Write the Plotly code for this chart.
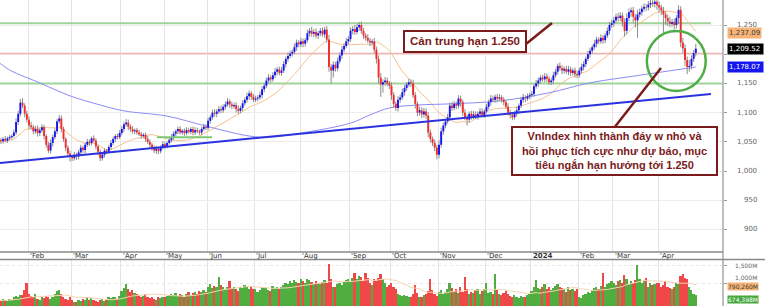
import pandas as pd
import plotly.graph_objects as go

# ---------------- DATA ----------------
holidays = ["2023-01-20", "2023-01-23", "2023-01-24", "2023-01-25", "2023-01-26",
            "2023-05-01", "2023-05-02", "2023-05-03", "2023-09-01", "2023-09-04",
            "2024-01-01", "2024-02-08", "2024-02-09", "2024-02-12", "2024-02-13",
            "2024-02-14", "2024-04-18"]

close_2023_01 = [1046, 1049, 1053, 1051, 1055, 1052, 1056, 1058, 1060, 1066, 1084, 1098, 1117, 1112, 1098, 1088]
close_2023_02 = [1078, 1075, 1068, 1072, 1065, 1070, 1075, 1060, 1045, 1035, 1048, 1058, 1068, 1085, 1090, 1072, 1055, 1040, 1030, 1024]
close_2023_03 = [1022, 1028, 1025, 1032, 1040, 1036, 1045, 1050, 1048, 1056, 1052, 1042, 1033, 1022, 1028, 1035, 1033, 1041, 1048, 1055, 1060, 1058, 1065]
close_2023_04 = [1072, 1080, 1083, 1076, 1072, 1068, 1070, 1066, 1063, 1060, 1062, 1055, 1050, 1045, 1040, 1035, 1038, 1034, 1040, 1046]
close_2023_05 = [1043, 1048, 1053, 1058, 1064, 1068, 1072, 1066, 1069, 1065, 1070, 1067, 1072, 1066, 1070, 1068, 1066, 1072, 1076, 1074]
close_2023_06 = [1086, 1092, 1100, 1098, 1102, 1106, 1104, 1110, 1114, 1119, 1114, 1111, 1113, 1106, 1103, 1108, 1116, 1122, 1128, 1133, 1127, 1122]
close_2023_07 = [1124, 1126, 1130, 1140, 1146, 1155, 1160, 1157, 1164, 1170, 1174, 1168, 1172, 1183, 1192, 1197, 1201, 1204, 1212, 1220, 1217]
close_2023_08 = [1222, 1218, 1224, 1236, 1240, 1235, 1238, 1232, 1236, 1240, 1234, 1242, 1225, 1178, 1172, 1182, 1176, 1188, 1198, 1208, 1214, 1222, 1226]
close_2023_09 = [1240, 1243, 1238, 1246, 1250, 1240, 1232, 1228, 1223, 1220, 1222, 1208, 1192, 1160, 1148, 1152, 1155, 1150, 1146]
close_2023_10 = [1130, 1115, 1108, 1122, 1126, 1135, 1142, 1148, 1152, 1150, 1130, 1115, 1100, 1104, 1097, 1102, 1095, 1066, 1055, 1048, 1040, 1028]
close_2023_11 = [1045, 1068, 1078, 1085, 1092, 1112, 1108, 1115, 1112, 1124, 1118, 1100, 1092, 1088, 1098, 1094, 1097, 1093, 1098, 1102, 1096, 1102]
close_2023_12 = [1110, 1118, 1124, 1122, 1127, 1124, 1126, 1122, 1118, 1110, 1100, 1096, 1092, 1098, 1104, 1112, 1122, 1126, 1124, 1128, 1130]
close_2024_01 = [1132, 1145, 1150, 1155, 1160, 1157, 1162, 1158, 1152, 1155, 1164, 1170, 1180, 1176, 1172, 1175, 1170, 1174, 1168, 1172, 1166, 1164]
close_2024_02 = [1172, 1178, 1183, 1192, 1200, 1206, 1212, 1218, 1225, 1222, 1228, 1224, 1232, 1240, 1250, 1253]
close_2024_03 = [1258, 1264, 1262, 1266, 1255, 1240, 1262, 1272, 1275, 1264, 1258, 1268, 1272, 1278, 1281, 1280, 1285, 1288, 1286, 1290, 1284]
close_2024_04 = [1280, 1275, 1268, 1262, 1256, 1252, 1255, 1250, 1262, 1276, 1220, 1210, 1190, 1178, 1180, 1192, 1202, 1209.52]
first_open = 1043

wick_up_months = [
    [4, 3, 5, 4, 3, 5, 3, 4, 3, 5, 6, 5, 6, 8, 4, 5],
    [5, 6, 4, 5, 6, 4, 5, 4, 3, 5, 6, 4, 5, 4, 6, 5, 4, 3, 4, 5],
    [4, 5, 3, 4, 5, 3, 4, 5, 4, 3, 5, 4, 3, 4, 5, 4, 3, 4, 5, 4, 3, 4, 5],
    [5, 4, 6, 5, 4, 5, 3, 4, 5, 4, 3, 4, 5, 4, 3, 4, 5, 3, 4, 5],
    [4, 3, 4, 5, 4, 3, 4, 5, 3, 4, 5, 4, 3, 4, 5, 4, 3, 4, 5, 4],
    [5, 4, 5, 6, 4, 5, 6, 4, 5, 6, 4, 5, 4, 5, 6, 4, 5, 4, 6, 5, 4, 5],
    [5, 4, 6, 5, 4, 5, 6, 4, 5, 6, 4, 5, 6, 5, 4, 6, 5, 4, 6, 5, 4],
    [6, 5, 4, 6, 5, 7, 5, 6, 4, 5, 6, 5, 6, 8, 5, 6, 5, 6, 5, 6, 5, 6, 5],
    [6, 5, 7, 6, 5, 6, 5, 4, 6, 5, 4, 6, 5, 6, 8, 5, 6, 5, 4],
    [6, 5, 4, 6, 5, 6, 5, 4, 6, 5, 6, 5, 4, 6, 5, 6, 5, 6, 5, 4, 6, 5],
    [8, 6, 5, 4, 6, 5, 6, 5, 4, 6, 5, 4, 6, 5, 4, 5, 6, 5, 4, 6, 5, 4],
    [5, 4, 6, 5, 4, 5, 6, 4, 5, 4, 6, 5, 4, 5, 6, 4, 5, 6, 4, 5, 4],
    [5, 4, 6, 5, 4, 5, 6, 5, 4, 5, 6, 5, 4, 6, 5, 4, 5, 6, 5, 4, 5, 6],
    [5, 6, 5, 4, 6, 5, 4, 6, 5, 4, 6, 5, 4, 6, 5, 6],
    [6, 5, 7, 6, 5, 6, 8, 6, 5, 6, 5, 8, 6, 5, 6, 5, 6, 7, 5, 6, 5],
    [6, 5, 6, 5, 6, 8, 5, 6, 5, 8, 6, 8, 7, 6, 10, 6, 5, 8],
]
wick_dn_months = [
    [3, 4, 3, 5, 4, 3, 4, 3, 4, 3, 4, 5, 4, 4, 6, 5],
    [6, 4, 5, 4, 6, 5, 4, 6, 5, 4, 5, 6, 4, 5, 4, 6, 5, 6, 5, 8],
    [5, 4, 6, 5, 4, 5, 6, 4, 5, 4, 3, 5, 6, 5, 4, 5, 4, 3, 5, 4, 5, 4, 3],
    [4, 5, 4, 6, 5, 4, 5, 4, 3, 5, 4, 5, 4, 6, 5, 4, 6, 5, 4, 3],
    [5, 4, 3, 4, 5, 4, 5, 3, 4, 5, 4, 3, 4, 5, 4, 3, 4, 5, 3, 4],
    [4, 5, 4, 5, 6, 4, 5, 4, 5, 4, 6, 5, 4, 6, 5, 4, 5, 4, 5, 6, 5, 4],
    [4, 5, 4, 6, 5, 4, 5, 6, 4, 5, 6, 4, 5, 4, 6, 5, 4, 5, 4, 6, 5],
    [5, 6, 5, 4, 6, 5, 6, 5, 6, 5, 4, 6, 5, 8, 22, 12, 6, 5, 4, 6, 5, 4, 5],
    [5, 6, 5, 4, 6, 5, 6, 5, 4, 6, 5, 6, 8, 10, 21, 14, 6, 5, 6],
    [8, 6, 5, 6, 5, 4, 6, 5, 4, 6, 5, 8, 6, 5, 6, 5, 6, 8, 6, 5, 6, 8],
    [6, 5, 6, 5, 4, 6, 5, 4, 6, 5, 8, 6, 5, 10, 5, 6, 5, 4, 5, 6, 4, 5],
    [4, 5, 6, 4, 5, 6, 4, 5, 6, 4, 5, 6, 5, 4, 5, 6, 4, 5, 6, 4, 5],
    [4, 5, 4, 6, 5, 4, 5, 6, 4, 5, 6, 4, 5, 4, 6, 5, 4, 6, 5, 4, 6, 5],
    [4, 5, 6, 5, 4, 6, 5, 4, 6, 5, 4, 6, 5, 4, 6, 5],
    [6, 5, 6, 5, 8, 10, 6, 5, 8, 10, 12, 30, 5, 6, 5, 6, 5, 6, 5, 6, 8],
    [8, 8, 35, 12, 8, 6, 5, 8, 6, 10, 8, 8, 10, 12, 8, 6, 5, 6],
]

# volume in millions of shares
volume_months = [
    [520, 480, 540, 500, 560, 530, 510, 560, 520, 600, 640, 620, 680, 660, 800, 990],
    [700, 650, 600, 690, 560, 520, 600, 580, 650, 620, 560, 600, 700, 780, 800, 700, 620, 560, 540, 600],
    [520, 480, 460, 520, 500, 560, 540, 600, 520, 580, 540, 500, 480, 520, 560, 500, 540, 600, 580, 620, 600, 560, 640],
    [780, 850, 970, 820, 760, 800, 720, 700, 680, 620, 640, 700, 600, 580, 620, 560, 540, 600, 580, 620],
    [600, 640, 680, 700, 660, 720, 650, 700, 680, 620, 700, 740, 680, 720, 760, 700, 780, 740, 800, 760],
    [900, 980, 860, 920, 880, 1170, 950, 900, 820, 880, 1060, 860, 900, 820, 780, 900, 860, 950, 900, 820, 880, 840],
    [820, 760, 800, 880, 900, 860, 800, 780, 920, 860, 880, 820, 900, 950, 1000, 960, 1050, 1000, 1080, 1040, 1000],
    [1100, 1050, 1000, 1120, 1080, 1020, 980, 1050, 1000, 960, 1020, 1080, 1000, 1527, 1100, 880, 900, 960, 1000, 940, 1020, 1080, 1100],
    [1050, 1150, 1268, 1100, 1200, 1180, 1050, 1268, 1150, 1000, 950, 1100, 1050, 1150, 1250, 1100, 1000, 900, 950],
    [1000, 900, 820, 700, 660, 650, 680, 640, 600, 620, 700, 940, 720, 620, 600, 660, 700, 780, 1100, 800, 700, 650],
    [760, 800, 700, 740, 820, 990, 850, 780, 820, 720, 880, 760, 1157, 820, 700, 760, 720, 800, 840, 700, 780, 820],
    [990, 720, 760, 700, 1250, 800, 700, 660, 720, 780, 700, 640, 600, 660, 620, 580, 640, 600, 620, 680, 700],
    [780, 900, 1083, 860, 820, 900, 960, 840, 880, 800, 860, 920, 980, 900, 860, 820, 760, 880, 800, 840, 780, 820],
    [620, 580, 660, 700, 760, 720, 800, 860, 900, 840, 920, 1268, 900, 980, 1000, 1050],
    [1000, 950, 1050, 1080, 1000, 1222, 1100, 980, 1050, 1000, 1080, 1500, 1120, 1000, 1050, 1130, 900, 1000, 950, 980, 1000],
    [1000, 900, 950, 1050, 900, 860, 820, 900, 1000, 960, 1200, 1250, 1150, 1100, 900, 800, 700, 674.4],
]

# 200-day moving average (trading-day index, value)
ma200_idx = [0, 7, 21, 34, 49, 60, 80, 98, 118, 128, 142, 165, 174, 183, 196, 211, 234, 257, 276, 299, 325]
ma200_val = [1192, 1173, 1151, 1130, 1113, 1103, 1094, 1077, 1060, 1058, 1065, 1082, 1096, 1108, 1113, 1115, 1120, 1134, 1151, 1164, 1178.07]

# support trend line (index, value)
trend_idx = [0, 332]
trend_val = [1013, 1132]

# horizontal levels
level_green = [1253, 1150]
level_red = [1201]
box_base_val = 1058
box_base_idx = [75.3, 100.8]

price_ticks = [900, 950, 1000, 1050, 1100, 1150, 1200, 1250]
price_tick_labels_shown = [900, 950, 1000, 1050, 1100, 1150, 1250]   # 1,200 is hidden behind the close tag
vol_ticks = [1000, 1500]
vol_tick_text = ["1,000M", "1,500M"]

tag_ma20 = 1237.09
tag_close = 1209.52
tag_ma200 = 1178.07
tag_vol_ma = 790.26
tag_vol = 674.398

note1 = "Cản trung hạn 1.250"
note2 = "VnIndex hình thành đáy w nhỏ và<br>hồi phục tích cực như dự báo, mục<br>tiêu ngắn hạn hướng tới 1.250"

# ---------------- BUILD ----------------
dates = pd.bdate_range("2023-01-03", "2024-04-25")
dates = dates[~dates.isin(pd.to_datetime(holidays))]
close = sum([close_2023_01, close_2023_02, close_2023_03, close_2023_04, close_2023_05,
             close_2023_06, close_2023_07, close_2023_08, close_2023_09, close_2023_10,
             close_2023_11, close_2023_12, close_2024_01, close_2024_02, close_2024_03,
             close_2024_04], [])
wup = sum(wick_up_months, [])
wdn = sum(wick_dn_months, [])
vol = sum(volume_months, [])
n = len(dates)
assert len(close) == n and len(wup) == n and len(wdn) == n and len(vol) == n, (n, len(close), len(wup), len(wdn), len(vol))

opn = [first_open] + close[:-1]
high = [max(o, c) + u for o, c, u in zip(opn, close, wup)]
low = [min(o, c) - d for o, c, d in zip(opn, close, wdn)]
up = [c >= o for o, c in zip(opn, close)]
idx = list(range(n))

ma20 = pd.Series(close).rolling(20, min_periods=1).mean()
vma = pd.Series(vol).rolling(20, min_periods=1).mean()

UPC = "#1414f5"
DNC = "#f22a2a"
VUP = "#4fae3f"
VDN = "#f04848"
DARKRED = "#7b1b1b"

fig = go.Figure()

fig.add_trace(go.Scatter(x=idx, y=ma20, mode="lines", line=dict(color="#f6c291", width=1), hoverinfo="skip"))
fig.add_trace(go.Scatter(x=ma200_idx, y=ma200_val, mode="lines", line=dict(color="#8a8cf5", width=1, shape="spline"), hoverinfo="skip"))

wx, wy = [], []
for i in idx:
    wx += [i, i, None]
    wy += [low[i], high[i], None]
fig.add_trace(go.Scatter(x=wx, y=wy, mode="lines", line=dict(color="#8c8c8c", width=1), hoverinfo="skip"))

for flag, col in ((True, UPC), (False, DNC)):
    bx, by = [], []
    for i in idx:
        if up[i] == flag:
            o, c = opn[i], close[i]
            lo, hi = min(o, c), max(o, c)
            if hi - lo < 1.0:
                lo, hi = lo - 0.5, hi + 0.5
            bx += [i, i, None]
            by += [lo, hi, None]
    fig.add_trace(go.Scatter(x=bx, y=by, mode="lines", line=dict(color=col, width=1.9), hoverinfo="skip"))

fig.add_trace(go.Bar(x=idx, y=vol, marker=dict(color=[VUP if u else VDN for u in up], line=dict(width=0)),
                     width=0.8, xaxis="x2", yaxis="y2", hoverinfo="skip"))
fig.add_trace(go.Scatter(x=idx, y=vma, mode="lines", line=dict(color="#f8d3b0", width=1),
                         xaxis="x2", yaxis="y2", hoverinfo="skip"))

month_start = [0] + [i for i in range(1, n) if dates[i].month != dates[i - 1].month]
month_text = []
for i in month_start:
    d = dates[i]
    month_text.append(f"<b>{d.year}</b>" if d.month == 1 else "'" + d.strftime("%b"))
grid_x = [i - 0.4 for i in month_start]

XR = [2.56, 337.6]
W, H = 765, 306
PW = 723
fig.update_layout(
    width=W, height=H, margin=dict(l=0, r=W - PW, t=0, b=0),
    paper_bgcolor="white", plot_bgcolor="white", showlegend=False,
    xaxis=dict(domain=[0, 1], range=XR, tickvals=grid_x, showticklabels=False, ticks="",
               showgrid=True, gridcolor="#e4e4e4", gridwidth=1, zeroline=False, anchor="y"),
    xaxis2=dict(domain=[0, 1], range=XR, tickvals=grid_x, showticklabels=False, ticks="",
                showgrid=True, gridcolor="#e4e4e4", gridwidth=1, zeroline=False, anchor="y2", matches="x"),
    yaxis=dict(domain=[1 - 252 / H, 1], range=[861.4, 1292.8], side="right", tickvals=price_ticks,
               showticklabels=False, ticks="outside", ticklen=3, tickcolor="#999",
               showgrid=True, gridcolor="#ececec", zeroline=False),
    yaxis2=dict(domain=[0, 46 / H], range=[361, 1639], side="right", tickvals=vol_ticks,
                showticklabels=False, ticks="outside", ticklen=3, tickcolor="#999",
                showgrid=True, gridcolor="#e6e6e6", griddash="dot", zeroline=False, anchor="x2"),
    bargap=0,
)

shapes = []
for lv in level_green:
    shapes.append(dict(type="line", xref="x", yref="y", x0=XR[0], x1=332 if lv > 1200 else XR[1], y0=lv, y1=lv,
                       line=dict(color="#9fd49a", width=2), layer="between"))
for lv in level_red:
    shapes.append(dict(type="line", xref="x", yref="y", x0=XR[0], x1=XR[1], y0=lv, y1=lv,
                       line=dict(color="#f2b3b3", width=1.5), layer="between"))
shapes.append(dict(type="line", xref="x", yref="y", x0=box_base_idx[0], x1=box_base_idx[1],
                   y0=box_base_val, y1=box_base_val, line=dict(color="#7cc874", width=2)))
shapes.append(dict(type="line", xref="x", yref="y", x0=trend_idx[0], x1=trend_idx[1],
                   y0=trend_val[0], y1=trend_val[1], line=dict(color="#2a32e0", width=2)))
shapes.append(dict(type="circle", xref="x", yref="y", x0=302.3, x1=329.6, y0=1137, y1=1239.7,
                   line=dict(color="#4fae48", width=2.5)))


def px(xp):
    return xp / PW


def py(yp):
    return 1 - yp / H


shapes.append(dict(type="line", xref="paper", yref="paper", x0=px(526), y0=py(44), x1=px(552), y1=py(23),
                   line=dict(color=DARKRED, width=2.5)))
shapes.append(dict(type="line", xref="paper", yref="paper", x0=px(614), y0=py(128), x1=px(661), y1=py(68),
                   line=dict(color=DARKRED, width=2.5)))
shapes.append(dict(type="line", xref="paper", yref="paper", x0=1, x1=1, y0=0, y1=1,
                   line=dict(color="#a8a8a8", width=1.5)))
shapes.append(dict(type="line", xref="paper", yref="paper", x0=0, x1=1, y0=py(252), y1=py(252),
                   line=dict(color="#8a8a8a", width=1.5)))
shapes.append(dict(type="line", xref="paper", yref="paper", x0=0, x1=px(765), y0=py(259.5), y1=py(259.5),
                   line=dict(color="#8a8a8a", width=1.5)))
fig.update_layout(shapes=shapes)

ann = []
TF = "DejaVu Sans"
for i, t in zip(month_start, month_text):
    ann.append(dict(x=i - 0.6, y=py(256), xref="x", yref="paper", text=t, showarrow=False,
                    xanchor="left", yanchor="middle", font=dict(family=TF, size=7, color="#333")))
for v in price_tick_labels_shown:
    ann.append(dict(x=px(759), y=v, xref="paper", yref="y", text=f"{v:,}", showarrow=False,
                    xanchor="right", yanchor="middle", font=dict(family=TF, size=7, color="#666")))
for v, t in zip(vol_ticks, vol_tick_text):
    ann.append(dict(x=px(759), y=v, xref="paper", yref="y2", text=t, showarrow=False,
                    xanchor="right", yanchor="bottom" if v == 1000 else "middle",
                    font=dict(family=TF, size=6, color="#666")))


def tag(v, yref, text, bg, fg, size=7, yanchor="middle"):
    return dict(x=px(727), y=v, xref="paper", yref=yref, text=text, showarrow=False,
                xanchor="left", yanchor=yanchor, bgcolor=bg, borderpad=0 if yref == "y2" else 1,
                font=dict(family=TF, size=size, color=fg))


ann.append(tag(tag_ma20, "y", f"{tag_ma20:,.2f}", "#f8b476", "#3a3a3a"))
ann.append(tag(tag_close, "y", f"{tag_close:,.2f}&nbsp;", "#000000", "#ffffff"))
ann.append(tag(tag_ma200, "y", f"{tag_ma200:,.2f}&nbsp;", "#1616f0", "#ffffff"))
ann.append(tag(tag_vol_ma, "y2", f"{tag_vol_ma * 1e3:,.0f}M", "#f8b476", "#3a3a3a", 6, "bottom"))
ann.append(tag(tag_vol, "y2", f"{tag_vol * 1e3:,.0f}M", "#46a83c", "#ffffff", 6, "top"))

ann.append(dict(x=px(465), y=py(42), xref="paper", yref="paper", text=f"<b>{note1}</b>", showarrow=False,
                xanchor="center", yanchor="middle", bgcolor="white", bordercolor=DARKRED, borderwidth=2,
                borderpad=2, width=116, height=15,
                font=dict(family="Liberation Sans", size=11.5, color=DARKRED)))
ann.append(dict(x=px(614.5), y=py(151), xref="paper", yref="paper", text=f"<b>{note2}</b>", showarrow=False,
                xanchor="center", yanchor="middle", bgcolor="white", bordercolor=DARKRED, borderwidth=2,
                borderpad=2, width=199, height=42, align="center",
                font=dict(family="Liberation Sans", size=11, color=DARKRED)))
fig.update_layout(annotations=ann)

fig.write_html("out.html")
